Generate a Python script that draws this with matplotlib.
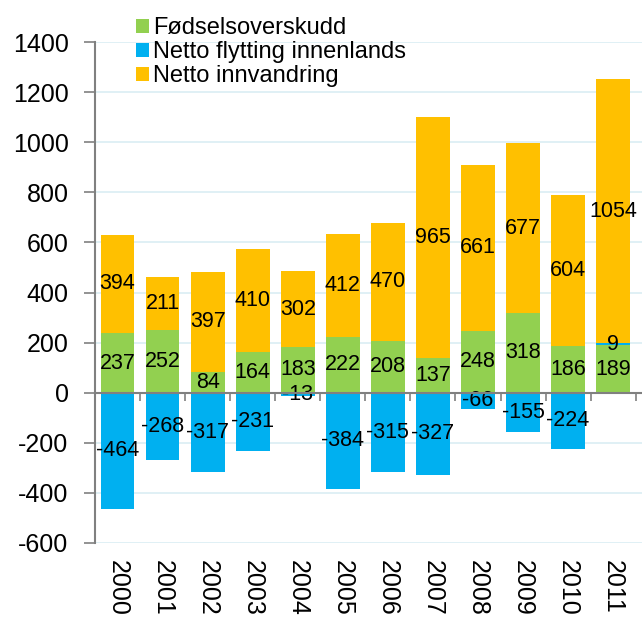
import numpy as np
import matplotlib
matplotlib.use('Agg')
from matplotlib import pyplot as plt
from matplotlib import transforms

years = ['2000', '2001', '2002', '2003', '2004', '2005',
         '2006', '2007', '2008', '2009', '2010', '2011']
fodsel = [237, 252, 84, 164, 183, 222, 208, 137, 248, 318, 186, 189]
flytting = [-464, -268, -317, -231, -13, -384, -315, -327, -66, -155, -224, 9]
innvandring = [394, 211, 397, 410, 302, 412, 470, 965, 661, 677, 604, 1054]

labels = ['Fødselsoverskudd', 'Netto flytting innenlands', 'Netto innvandring']
colors = ['#92D050', '#00B0F0', '#FFC000']

plt.rcParams['font.family'] = ['Liberation Sans', 'DejaVu Sans']
plt.rcParams['axes.unicode_minus'] = False

fig = plt.figure(figsize=(6.42, 6.17), dpi=100)
ax = fig.add_axes([95 / 642, 1 - 543 / 617, 1 - 95 / 642, 501 / 617])

x = np.arange(len(years))
w = 0.75
f = np.array(fodsel)
m = np.array(flytting)
v = np.array(innvandring)

# positive parts stack upward, negative ones go below zero
m_bottom = np.where(m > 0, f, 0)
v_bottom = f + np.where(m > 0, m, 0)

bars_f = ax.bar(x, f, w, color=colors[0], label=labels[0], zorder=2)
bars_m = ax.bar(x, m, w, bottom=m_bottom, color=colors[1], label=labels[1], zorder=2)
bars_v = ax.bar(x, v, w, bottom=v_bottom, color=colors[2], label=labels[2], zorder=2)

for bars in (bars_f, bars_m, bars_v):
    ax.bar_label(bars, label_type='center', fontsize=15.5, color='black')

ax.set_ylim(-600, 1400)
ax.set_yticks(np.arange(-600, 1401, 200))
ax.set_xlim(-0.5, 11.64)
ax.grid(axis='y', color='#DAEEF3', linewidth=1.2, zorder=0)
ax.tick_params(axis='y', labelsize=18, length=8, pad=11, color='#808080', width=1.2)

for s in ('top', 'right'):
    ax.spines[s].set_visible(False)
ax.spines['left'].set_color('#808080')
ax.spines['left'].set_linewidth(1.5)
ax.spines['bottom'].set_position(('data', 0))
ax.spines['bottom'].set_color('#808080')
ax.spines['bottom'].set_linewidth(1.5)
ax.spines['bottom'].set_zorder(3)

ax.set_xticks(np.arange(-0.5, 12, 1))
ax.tick_params(axis='x', labelbottom=False, length=6, color='#808080', width=1.2)

trans = transforms.blended_transform_factory(ax.transData, ax.transAxes)
for i, yr in enumerate(years):
    ax.text(i, -0.033, yr, rotation=270, fontsize=18, transform=trans,
            ha='center', va='top')

fig.legend(loc='upper left', bbox_to_anchor=(127 / 642, 1 - 8 / 617),
           fontsize=17, frameon=False, handlelength=0.55, handleheight=0.55,
           handletextpad=0.15, labelspacing=0.08, borderaxespad=0)

fig.savefig('out.png', dpi=100)
